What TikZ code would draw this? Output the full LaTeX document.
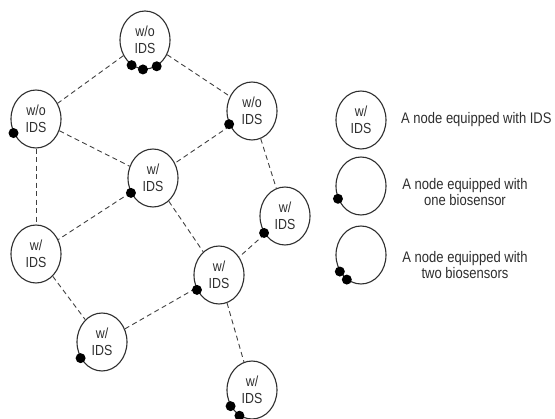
\documentclass[tikz,border=0pt]{standalone}
\usepackage{fontspec}
\setmainfont{Liberation Sans}
\newfontfamily\nodefont[FakeStretch=0.85]{Liberation Sans}
\usetikzlibrary{shapes.geometric}
\definecolor{ink}{HTML}{2E2E2E}
\definecolor{edgeink}{HTML}{404040}
\tikzset{
  idsnode/.style={ellipse, draw=ink, line width=1.1pt, minimum width=50pt, minimum height=58pt,
    inner sep=0pt, align=center, text=ink, font=\nodefont\fontsize{14.6}{16.7}\selectfont},
  link/.style={draw=edgeink, line width=0.9pt, dash pattern=on 5pt off 3.5pt},
  sensor/.style={circle, fill=black, inner sep=0pt, minimum size=10pt},
  legtext/.style={text=ink, align=center, inner sep=0pt, font=\nodefont\fontsize{15.3}{16}\selectfont}
}
\begin{document}
\begin{tikzpicture}[x=1pt,y=-1pt]
\useasboundingbox (0,0) rectangle (555,419);
% network nodes
\node[idsnode] (top) at (145,40) {w/o\\IDS};
\node[idsnode] (lwo) at (36,119) {w/o\\IDS};
\node[idsnode] (rwo) at (252,111) {w/o\\IDS};
\node[idsnode] (cen) at (153,178) {w/\\IDS};
\node[idsnode] (rw) at (285,216) {w/\\IDS};
\node[idsnode] (lw) at (36,254) {w/\\IDS};
\node[idsnode] (mw) at (219,275) {w/\\IDS};
\node[idsnode] (llw) at (102,342) {w/\\IDS};
\node[idsnode] (bw) at (252,390) {w/\\IDS};
% links
\draw[link] (top) -- (lwo);
\draw[link] (top) -- (rwo);
\draw[link] (lwo) -- (cen);
\draw[link] (lwo) -- (lw);
\draw[link] (rwo) -- (cen);
\draw[link] (rwo) -- (rw);
\draw[link] (cen) -- (lw);
\draw[link] (cen) -- (mw);
\draw[link] (rw) -- (mw);
\draw[link] (lw) -- (llw);
\draw[link] (llw) -- (mw);
\draw[link] (mw) -- (bw);
% biosensors
\node[sensor] (s1) at (top.242) {};
\node[sensor] (s2) at (top.266) {};
\node[sensor] (s3) at (top.294) {};
\node[sensor] (s4) at (lwo.212) {};
\node[sensor] (s5) at (rwo.210) {};
\node[sensor] (s6) at (cen.214) {};
\node[sensor] (s7) at (rw.219) {};
\node[sensor] (s8) at (mw.214) {};
\node[sensor] (s9) at (llw.217) {};
\node[sensor] (s10) at (bw.217) {};
\node[sensor] (s11) at (bw.244) {};
% legend
\node[idsnode] (leg1) at (361,120) {w/\\IDS};
\node[idsnode] (leg2) at (361,186) {};
\node[idsnode] (leg3) at (361,255) {};
\node[sensor] (ls1) at (leg2.209) {};
\node[sensor] (ls2) at (leg3.218) {};
\node[sensor] (ls3) at (leg3.240) {};
\node[legtext, anchor=base west] (t1) at (401,124) {A node equipped with IDS};
\node[legtext] (t2) at (465,192.5) {A node equipped with\\one biosensor};
\node[legtext] (t3) at (465,265.5) {A node equipped with\\two biosensors};
\end{tikzpicture}
\end{document}
